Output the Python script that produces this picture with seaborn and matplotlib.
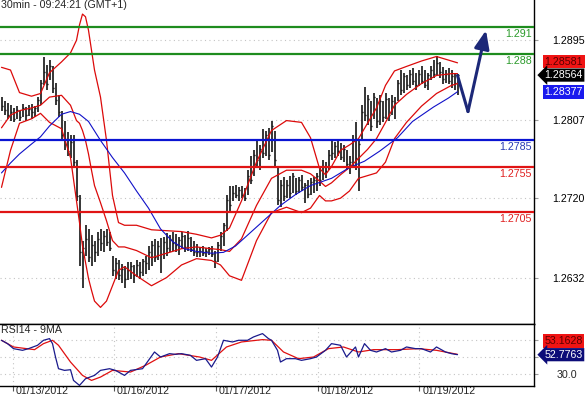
import numpy as np
import pandas as pd
import matplotlib
matplotlib.use("Agg")
import matplotlib.pyplot as plt
from matplotlib.transforms import ScaledTranslation
import seaborn as sns

# 30min EUR bars (bar index, high / low / close)
highs = [1.2832, 1.2828, 1.2825, 1.2823, 1.2820, 1.2822, 1.2817, 1.2824, 1.2821, 1.2823,
         1.2824, 1.2822, 1.2832, 1.2851, 1.2876, 1.2868, 1.2873, 1.2867, 1.2848, 1.2834,
         1.2817, 1.2806, 1.2793, 1.2790, 1.2790, 1.2762, 1.2723, 1.2673, 1.2690, 1.2686,
         1.2679, 1.2673, 1.2682, 1.2686, 1.2684, 1.2686, 1.2682, 1.2656, 1.2654, 1.2651,
         1.2647, 1.2645, 1.2649, 1.2649, 1.2646, 1.2651, 1.2649, 1.2653, 1.2656, 1.2667,
         1.2673, 1.2675, 1.2673, 1.2676, 1.2677, 1.2681, 1.2679, 1.2682, 1.2680, 1.2677,
         1.2682, 1.2679, 1.2684, 1.2677, 1.2673, 1.2669, 1.2666, 1.2667, 1.2665, 1.2666,
         1.2667, 1.2662, 1.2671, 1.2682, 1.2693, 1.2723, 1.2734, 1.2733, 1.2735, 1.2732,
         1.2733, 1.2731, 1.2751, 1.2767, 1.2773, 1.2784, 1.2779, 1.2797, 1.2795, 1.2798,
         1.2806, 1.2795, 1.2756, 1.2740, 1.2743, 1.2740, 1.2745, 1.2748, 1.2742, 1.2744,
         1.2746, 1.2737, 1.2740, 1.2742, 1.2744, 1.2748, 1.2756, 1.2762, 1.2760, 1.2773,
         1.2784, 1.2782, 1.2784, 1.2781, 1.2779, 1.2773, 1.2767, 1.2790, 1.2804, 1.2784,
         1.2823, 1.2843, 1.2834, 1.2828, 1.2837, 1.2831, 1.2834, 1.2828, 1.2837, 1.2831,
         1.2834, 1.2832, 1.2851, 1.2862, 1.2859, 1.2856, 1.2862, 1.2864, 1.2859, 1.2862,
         1.2866, 1.2862, 1.2859, 1.2867, 1.2873, 1.2877, 1.2871, 1.2865, 1.2862, 1.2864,
         1.2862, 1.2859, 1.2858]
lows = [1.2817, 1.2812, 1.2808, 1.2806, 1.2804, 1.2808, 1.2805, 1.2810, 1.2806, 1.2811,
        1.2808, 1.2810, 1.2815, 1.2823, 1.2845, 1.2840, 1.2851, 1.2836, 1.2823, 1.2810,
        1.2784, 1.2773, 1.2767, 1.2764, 1.2756, 1.2717, 1.2645, 1.2621, 1.2656, 1.2649,
        1.2645, 1.2649, 1.2656, 1.2662, 1.2660, 1.2667, 1.2662, 1.2634, 1.2631, 1.2629,
        1.2626, 1.2621, 1.2629, 1.2631, 1.2626, 1.2633, 1.2631, 1.2634, 1.2636, 1.2640,
        1.2645, 1.2649, 1.2651, 1.2637, 1.2653, 1.2656, 1.2660, 1.2662, 1.2660, 1.2657,
        1.2664, 1.2660, 1.2662, 1.2660, 1.2656, 1.2655, 1.2655, 1.2656, 1.2655, 1.2657,
        1.2655, 1.2643, 1.2649, 1.2662, 1.2667, 1.2684, 1.2704, 1.2717, 1.2720, 1.2717,
        1.2720, 1.2717, 1.2723, 1.2736, 1.2745, 1.2756, 1.2751, 1.2764, 1.2767, 1.2762,
        1.2771, 1.2756, 1.2712, 1.2710, 1.2717, 1.2720, 1.2720, 1.2726, 1.2723, 1.2726,
        1.2728, 1.2715, 1.2720, 1.2723, 1.2726, 1.2728, 1.2734, 1.2740, 1.2742, 1.2751,
        1.2762, 1.2764, 1.2767, 1.2762, 1.2760, 1.2751, 1.2747, 1.2756, 1.2751, 1.2728,
        1.2784, 1.2806, 1.2801, 1.2795, 1.2808, 1.2798, 1.2801, 1.2804, 1.2808, 1.2806,
        1.2812, 1.2808, 1.2828, 1.2834, 1.2837, 1.2840, 1.2842, 1.2845, 1.2840, 1.2844,
        1.2846, 1.2842, 1.2840, 1.2851, 1.2853, 1.2857, 1.2853, 1.2847, 1.2848, 1.2846,
        1.2842, 1.2840, 1.2834]
closes = [1.2822, 1.2818, 1.2812, 1.2815, 1.2808, 1.2818, 1.2810, 1.2820, 1.2812, 1.2819,
          1.2815, 1.2820, 1.2829, 1.2848, 1.2860, 1.2846, 1.2866, 1.2842, 1.2829, 1.2815,
          1.2790, 1.2786, 1.2772, 1.2782, 1.2760, 1.2722, 1.2660, 1.2665, 1.2675, 1.2655,
          1.2668, 1.2660, 1.2675, 1.2670, 1.2678, 1.2672, 1.2665, 1.2640, 1.2648, 1.2635,
          1.2642, 1.2630, 1.2640, 1.2645, 1.2635, 1.2646, 1.2638, 1.2650, 1.2648, 1.2660,
          1.2668, 1.2655, 1.2667, 1.2658, 1.2672, 1.2665, 1.2675, 1.2670, 1.2668, 1.2674,
          1.2678, 1.2666, 1.2676, 1.2664, 1.2660, 1.2660, 1.2662, 1.2659, 1.2661, 1.2664,
          1.2658, 1.2650, 1.2668, 1.2678, 1.2690, 1.2718, 1.2712, 1.2726, 1.2724, 1.2729,
          1.2723, 1.2720, 1.2745, 1.2740, 1.2768, 1.2762, 1.2775, 1.2770, 1.2790, 1.2768,
          1.2800, 1.2762, 1.2718, 1.2735, 1.2722, 1.2735, 1.2726, 1.2745, 1.2728, 1.2740,
          1.2732, 1.2735, 1.2725, 1.2738, 1.2740, 1.2745, 1.2740, 1.2755, 1.2750, 1.2768,
          1.2770, 1.2778, 1.2772, 1.2766, 1.2775, 1.2758, 1.2760, 1.2785, 1.2765, 1.2780,
          1.2815, 1.2812, 1.2830, 1.2800, 1.2832, 1.2805, 1.2828, 1.2810, 1.2830, 1.2812,
          1.2828, 1.2825, 1.2848, 1.2840, 1.2855, 1.2845, 1.2858, 1.2850, 1.2845, 1.2858,
          1.2850, 1.2845, 1.2856, 1.2862, 1.2858, 1.2870, 1.2860, 1.2852, 1.2858, 1.2850,
          1.2855, 1.2848, 1.2856]

# Bollinger bands, sampled at these bar indices
band_idx = [0, 3, 6, 10, 13, 16, 20, 23, 25, 26, 27, 28, 29, 30, 31, 33, 35, 37, 39, 41,
            45, 50, 55, 60, 65, 70, 73, 76, 80, 85, 90, 95, 100, 103, 106, 108, 110, 113,
            116, 119, 122, 125, 128, 131, 135, 140, 145, 150, 152]
band_upper = [1.2865, 1.2862, 1.2837, 1.2833, 1.2836, 1.2859, 1.2871, 1.2881, 1.2895, 1.2912,
              1.2924, 1.2921, 1.2906, 1.2884, 1.2862, 1.2832, 1.2784, 1.2723, 1.2693, 1.2690,
              1.2690, 1.2685, 1.2684, 1.2683, 1.2680, 1.2676, 1.2679, 1.2687, 1.2717, 1.2760,
              1.2795, 1.2806, 1.2804, 1.2787, 1.2753, 1.2746, 1.2755, 1.2773, 1.2779, 1.2786,
              1.2803, 1.2820, 1.2845, 1.2861, 1.2866, 1.2872, 1.2877, 1.2872, 1.2870]
band_mid = [1.2798, 1.2812, 1.2817, 1.2820, 1.2823, 1.2832, 1.2834, 1.2823, 1.2806, 1.2803,
            1.2795, 1.2784, 1.2769, 1.2751, 1.2734, 1.2715, 1.2695, 1.2673, 1.2666, 1.2666,
            1.2662, 1.2654, 1.2659, 1.2664, 1.2666, 1.2664, 1.2663, 1.2661, 1.2675, 1.2712,
            1.2742, 1.2751, 1.2751, 1.2747, 1.2739, 1.2733, 1.2737, 1.2746, 1.2754, 1.2764,
            1.2774, 1.2786, 1.2804, 1.2823, 1.2835, 1.2847, 1.2856, 1.2858, 1.2858]
band_lower = [1.2732, 1.2773, 1.2803, 1.2808, 1.2814, 1.2804, 1.2797, 1.2765, 1.2717, 1.2693,
              1.2667, 1.2649, 1.2631, 1.2618, 1.2606, 1.2599, 1.2606, 1.2623, 1.2640, 1.2644,
              1.2634, 1.2623, 1.2632, 1.2646, 1.2653, 1.2651, 1.2646, 1.2634, 1.2629, 1.2673,
              1.2704, 1.2710, 1.2704, 1.2709, 1.2723, 1.2717, 1.2717, 1.2720, 1.2728, 1.2742,
              1.2745, 1.2748, 1.2760, 1.2786, 1.2804, 1.2822, 1.2836, 1.2845, 1.2847]

# slow moving average (blue)
ma_idx = [0, 3, 6, 10, 13, 16, 20, 23, 26, 29, 33, 37, 41, 45, 49, 53, 57, 61, 65, 70,
          74, 78, 83, 88, 93, 98, 103, 110, 116, 121, 126, 132, 137, 144, 149, 152]
ma_vals = [1.2748, 1.2759, 1.2769, 1.2780, 1.2788, 1.2800, 1.2813, 1.2816, 1.2813, 1.2805,
           1.2784, 1.2765, 1.2748, 1.2728, 1.2709, 1.2686, 1.2672, 1.2664, 1.2661, 1.2659,
           1.2660, 1.2667, 1.2682, 1.2697, 1.2712, 1.2724, 1.2734, 1.2742, 1.2754, 1.2761,
           1.2772, 1.2787, 1.2805, 1.2821, 1.2831, 1.2838]

# RSI14 and its 9MA
rsi_idx = [0, 2, 4, 7, 9, 12, 14, 16, 17, 18, 19, 21, 23, 24, 26, 28, 31, 33, 36, 38,
           41, 43, 47, 49, 51, 53, 56, 58, 60, 63, 65, 68, 70, 72, 74, 77, 79, 82, 84, 87,
           89, 90, 92, 93, 95, 98, 100, 103, 105, 108, 110, 113, 115, 118, 119, 121, 123, 125, 128, 130,
           133, 135, 138, 140, 143, 145, 148, 150, 152]
rsi_vals = [70, 66, 60, 58, 60, 64, 70, 72, 66, 50, 36, 34, 34.8, 22, 16, 24, 28, 34, 36, 34,
            28, 34, 36, 46, 56, 50, 54, 53.2, 54, 52, 46, 48, 38, 50, 70, 68, 70, 70, 74, 78,
            72, 70, 58, 44, 48, 48, 46, 48, 50, 58, 66, 64, 50, 62, 50, 66, 58, 56, 60, 56,
            58, 62, 60, 60, 56, 62, 56, 54, 52.8]
rsi_ma_idx = [0, 4, 11, 14, 17, 19, 23, 27, 30, 33, 37, 43, 48, 53, 59, 66, 70, 75, 80, 87,
              90, 94, 99, 104, 109, 114, 119, 124, 132, 139, 145, 152]
rsi_ma_vals = [70, 62, 58.8, 66, 70, 64, 44, 28, 22, 26, 34, 32, 40, 50, 54, 50, 46, 62, 68, 70.8,
               70, 56, 48, 50, 60, 62, 56, 58.8, 58.8, 60, 58, 53.2]

levels = [1.291, 1.288, 1.2785, 1.2755, 1.2705]
level_labels = ["1.291", "1.288", "1.2785", "1.2755", "1.2705"]
level_colors = ["#1e8c1e", "#1e8c1e", "#0a14d2", "#e01414", "#e01414"]
level_text_colors = ["#2a9a2a", "#2a9a2a", "#2a3cb4", "#e02020", "#e02020"]

price_ticks = [1.2632, 1.2720, 1.2807, 1.2895]
day_ticks = [3.8, 37.5, 71.5, 105.5, 139.3]
day_labels = ["01/13/2012", "01/16/2012", "01/17/2012", "01/18/2012", "01/19/2012"]

# projected move (bar index, price)
arrow_x = [152, 155.5, 161.5]
arrow_y = [1.2856, 1.2816, 1.2906]

sns.set_theme(style="white")
plt.rcParams["font.family"] = ["Liberation Sans", "DejaVu Sans"]
FS = 7.7

fig = plt.figure(figsize=(5.86, 3.97), dpi=100)
ax = fig.add_axes([0, 73 / 397, 534 / 586, 324 / 397])
ax_rsi = fig.add_axes([0, 11 / 397, 534 / 586, 62 / 397])

idx = np.arange(len(highs))
ax.vlines(idx, lows, highs, color="black", lw=1.1, zorder=2)
ax.hlines(closes, idx, idx + 0.6, color="black", lw=1.0, zorder=2)

bands = pd.DataFrame({"i": band_idx, "up": band_upper, "mid": band_mid, "lo": band_lower})
for col in ["up", "mid", "lo"]:
    sns.lineplot(data=bands, x="i", y=col, ax=ax, color="#dc0a0a", lw=0.9,
                 estimator=None, zorder=3)
sns.lineplot(x=ma_idx, y=ma_vals, ax=ax, color="#1010c8", lw=0.8, estimator=None, zorder=3)

for lv, lab, c, tc in zip(levels, level_labels, level_colors, level_text_colors):
    ax.axhline(lv, color=c, lw=1.6, zorder=4)
    ax.annotate(lab, xy=(1, lv), xycoords=ax.get_yaxis_transform(), xytext=(-1.5, -1.5),
                textcoords="offset points", ha="right", va="top", fontsize=FS, color=tc)

ax.plot(arrow_x[:2], arrow_y[:2], color="#1c2878", lw=2.2, solid_capstyle="round", zorder=5)
ax.annotate("", xy=(arrow_x[2], arrow_y[2]), xytext=(arrow_x[1], arrow_y[1]),
            arrowprops=dict(arrowstyle="-|>,head_length=1.1,head_width=0.45", color="#1c2878",
                            lw=2.2, shrinkA=0, shrinkB=0, mutation_scale=10), zorder=5)

ax.set_xlim(-0.5, 177.5)
ax.set_ylim(1.25806, 1.29396)
ax.set_xticks([])
ax.yaxis.tick_right()
ax.set_yticks(price_ticks)
ax.set_yticklabels([f"{t:.4f}" for t in price_ticks])
ax.tick_params(axis="y", length=3, width=0.8, color="#9a9a9a", labelcolor="black",
               pad=10, labelsize=FS, right=True)
ax.grid(axis="y", color="#c4c4c4", linestyle=(0, (1, 3)), lw=0.8)
ax.set_axisbelow(True)
ax.set_xlabel("")
ax.set_ylabel("")
for s in ["left", "top"]:
    ax.spines[s].set_visible(False)
for s in ["right", "bottom"]:
    ax.spines[s].set_visible(True)
    ax.spines[s].set_color("black")
    ax.spines[s].set_linewidth(1.0)

# value tags on the price scale
tag = dict(xycoords=ax.get_yaxis_transform(), textcoords="offset points",
           ha="left", va="center", fontsize=FS, annotation_clip=False)
ax.annotate("1.28581", xy=(1, 1.28581), xytext=(7.5, 8.4), color="#5a0000",
            bbox=dict(boxstyle="square,pad=0.15", fc="#f01414", ec="none"), **tag)
ax.annotate("1.28564", xy=(1, 1.28564), xytext=(7.5, 0), color="white",
            bbox=dict(boxstyle="larrow,pad=0.15", fc="black", ec="none"), **tag)
ax.annotate("1.28377", xy=(1, 1.28377), xytext=(7.5, 0), color="white",
            bbox=dict(boxstyle="square,pad=0.15", fc="#1a1aee", ec="none"), **tag)

# RSI panel
sns.lineplot(x=rsi_ma_idx, y=rsi_ma_vals, ax=ax_rsi, color="#e01010", lw=0.9, estimator=None)
sns.lineplot(x=rsi_idx, y=rsi_vals, ax=ax_rsi, color="#1a1a8c", lw=0.9, estimator=None)
ax_rsi.set_xlim(-0.5, 177.5)
ax_rsi.set_ylim(15.3, 89.5)
ax_rsi.yaxis.tick_right()
ax_rsi.set_yticks([30, 50, 70])
ax_rsi.set_yticklabels(["30.0", "", ""])
ax_rsi.tick_params(axis="y", length=3, width=0.8, color="#9a9a9a", pad=13, labelsize=FS,
                   right=True)
ax_rsi.set_xticks(day_ticks)
ax_rsi.set_xticklabels(day_labels)
ax_rsi.tick_params(axis="x", length=3.6, width=0.8, color="#555555", pad=-3.6,
                   labelsize=FS, bottom=True, direction="out")
for lab in ax_rsi.get_xticklabels():
    lab.set_horizontalalignment("left")
    lab.set_transform(lab.get_transform() + ScaledTranslation(3 / 100, 0, fig.dpi_scale_trans))
ax_rsi.grid(True, color="#c4c4c4", linestyle=(0, (1, 3)), lw=0.8)
ax_rsi.set_axisbelow(True)
ax_rsi.set_xlabel("")
ax_rsi.set_ylabel("")
ax_rsi.spines["left"].set_visible(False)
for s in ["right", "bottom", "top"]:
    ax_rsi.spines[s].set_visible(True)
    ax_rsi.spines[s].set_color("black")
    ax_rsi.spines[s].set_linewidth(1.0)
ax_rsi.text(0.002, 0.985, "RSI14 - 9MA", transform=ax_rsi.transAxes, ha="left", va="top",
            fontsize=FS)

rtag = dict(xycoords=ax_rsi.get_yaxis_transform(), textcoords="offset points",
            ha="left", va="center", fontsize=FS, annotation_clip=False)
ax_rsi.annotate("53.1628", xy=(1, 53.1628), xytext=(7.5, 9.6), color="#5a0000",
                bbox=dict(boxstyle="square,pad=0.15", fc="#f01414", ec="none"), **rtag)
ax_rsi.annotate("52.7763", xy=(1, 52.7763), xytext=(7.5, 0), color="white",
                bbox=dict(boxstyle="larrow,pad=0.15", fc="#0c0c78", ec="none"), **rtag)

fig.text(0.001, 0.999, "30min - 09:24:21 (GMT+1)", ha="left", va="top", fontsize=FS)

fig.savefig("out.png", dpi=100)
